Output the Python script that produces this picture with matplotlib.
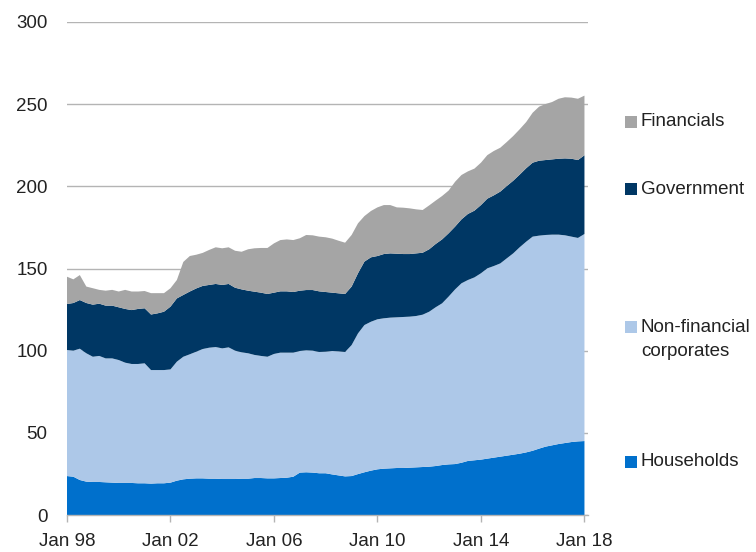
import matplotlib
matplotlib.use("Agg")
import matplotlib.pyplot as plt
import matplotlib.dates as mdates
from matplotlib.patches import Rectangle
import pandas as pd

# quarterly, Q1 1998 .. Q1 2018
dates = pd.date_range("1998-01-01", periods=81, freq="QS")

households = [23.7, 23.3, 21.3, 20.3, 20.1, 20.1, 19.9, 19.7, 19.5, 19.5,
              19.5, 19.3, 19.3, 19.1, 19.3, 19.3, 19.7, 20.9, 21.7, 22.1,
              22.3, 22.3, 22.1, 22.1, 21.9, 21.9, 21.9, 22.1, 22.1, 22.5,
              22.5, 22.3, 22.3, 22.5, 22.7, 23.3, 25.8, 26.0, 25.8, 25.4,
              25.4, 24.7, 24.1, 23.5, 23.7, 24.9, 26.0, 27.0, 27.8, 28.2,
              28.4, 28.6, 28.6, 28.8, 29.0, 29.2, 29.4, 29.8, 30.4, 30.8,
              31.0, 31.8, 32.9, 33.3, 33.7, 34.3, 34.9, 35.5, 36.1, 36.7,
              37.3, 38.1, 39.1, 40.4, 41.6, 42.4, 43.2, 43.8, 44.4, 44.8,
              45.0]
non_financial = [76.7, 76.7, 79.9, 78.1, 76.2, 76.7, 75.4, 75.6, 74.8, 73.2,
                 72.4, 72.6, 73.0, 69.1, 68.9, 68.9, 68.9, 72.4, 74.6, 75.7,
                 77.1, 78.7, 79.7, 80.1, 79.5, 80.1, 78.1, 76.9, 76.3, 74.9,
                 74.3, 74.0, 75.7, 76.3, 76.1, 75.5, 74.0, 74.2, 74.2, 73.8,
                 74.0, 75.1, 75.5, 75.7, 79.7, 85.6, 89.6, 90.6, 91.3, 91.5,
                 91.7, 91.7, 91.9, 91.9, 92.1, 92.7, 94.3, 96.6, 98.4, 102.1,
                 106.3, 109.2, 110.1, 111.3, 113.4, 115.8, 116.6, 117.6, 120.1, 122.5,
                 125.6, 128.2, 130.3, 129.6, 128.8, 128.2, 127.4, 126.4, 125.0, 123.8,
                 126.0]
government = [28.0, 29.0, 29.6, 30.6, 31.7, 31.8, 32.1, 32.1, 32.1, 32.7,
              32.8, 33.5, 33.5, 33.8, 34.5, 35.5, 38.2, 38.5, 37.6, 38.2,
              38.5, 38.4, 38.2, 38.4, 38.6, 38.6, 38.3, 38.3, 38.1, 38.5,
              38.5, 38.2, 37.3, 37.3, 37.3, 36.9, 36.7, 36.7, 36.9, 36.9,
              36.3, 35.5, 35.3, 35.3, 35.6, 36.6, 38.6, 39.2, 38.5, 39.1,
              39.1, 38.7, 38.3, 38.1, 38.1, 37.7, 38.0, 38.5, 38.9, 38.5,
              38.2, 38.9, 40.2, 40.6, 41.5, 42.4, 43.0, 43.7, 44.0, 44.2,
              44.2, 44.7, 45.0, 45.6, 45.6, 45.8, 46.2, 46.8, 47.4, 47.4,
              47.9]
financials = [16.6, 14.4, 15.2, 10.0, 10.0, 8.4, 9.1, 9.6, 9.6, 11.6,
              11.3, 10.6, 10.5, 13.0, 12.3, 11.3, 11.2, 11.2, 20.1, 21.6,
              20.5, 20.1, 21.3, 22.3, 22.3, 22.3, 22.5, 22.9, 25.2, 26.4,
              27.2, 28.0, 30.0, 31.2, 31.6, 31.6, 31.9, 33.5, 33.3, 33.3,
              33.3, 32.9, 32.0, 31.2, 31.4, 30.4, 27.7, 28.2, 29.6, 29.8,
              29.4, 28.2, 28.2, 27.8, 26.8, 26.0, 26.7, 26.4, 26.4, 26.0,
              27.3, 27.0, 25.9, 25.6, 25.8, 26.5, 27.0, 26.7, 26.8, 27.2,
              27.6, 28.1, 30.4, 32.9, 34.1, 34.9, 36.5, 37.2, 37.2, 37.3,
              36.3]

labels = ["Households", "Non-financial\ncorporates", "Government", "Financials"]
colors = ["#0070cc", "#adc8e8", "#003764", "#a5a5a5"]
label_y = [462, 327, 189, 122]  # pixel row (centre of first line) of side labels

plt.rcParams['font.family'] = ['Liberation Sans', 'DejaVu Sans']

fig = plt.figure(figsize=(7.56, 5.52), dpi=100)
ax = fig.add_axes([67/756, 1 - 515/552, (588 - 67)/756, (515 - 22)/552])

ax.stackplot(dates, households, non_financial, government, financials,
             colors=colors, linewidth=0, zorder=2)

ax.set_ylim(0, 300)
ax.set_yticks(range(0, 301, 50))
ax.set_xlim(pd.Timestamp("1998-01-01"), pd.Timestamp("2018-02-20"))
ax.set_xticks([pd.Timestamp(f"{y}-01-01") for y in range(1998, 2019, 4)])
ax.xaxis.set_major_formatter(mdates.DateFormatter("Jan %y"))

ax.grid(axis='y', color="#b4b4b4", linewidth=1, zorder=1)
for s in ["top", "right", "left"]:
    ax.spines[s].set_visible(False)
ax.spines["bottom"].set_color("#b4b4b4")
ax.spines["bottom"].set_linewidth(1)
ax.spines["bottom"].set_zorder(3)

ax.tick_params(axis='y', length=0, pad=14, labelsize=13.5, labelcolor="#222222")
ax.tick_params(axis='x', length=5, width=1, color="#b4b4b4", pad=8,
               labelsize=13.5, labelcolor="#222222")

# side labels with colour squares
for lab, c, yp in zip(labels, colors, label_y):
    fig.add_artist(Rectangle((625/756, 1 - (yp + 6)/552), 12/756, 12/552,
                             transform=fig.transFigure, color=c, lw=0))
    for k, line in enumerate(lab.split("\n")):
        fig.text(641/756, 1 - (yp + 25*k)/552, line, ha='left', va='center',
                 fontsize=13.5, color="#222222")

plt.savefig("out.png", dpi=100)
